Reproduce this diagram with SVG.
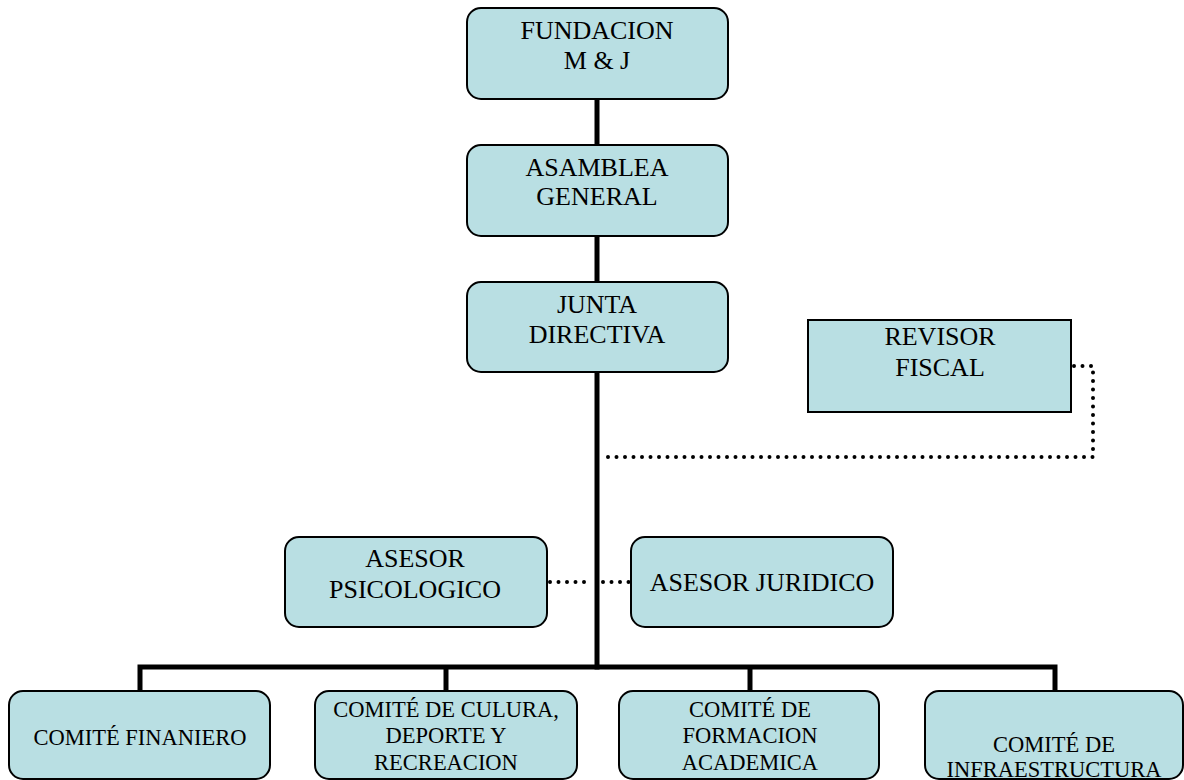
<svg xmlns="http://www.w3.org/2000/svg" width="1184" height="780" viewBox="0 0 1184 780">
<style>
.box{fill:#B9DFE3;stroke:#000;stroke-width:2}
text{font-family:'Liberation Serif','Times New Roman',serif;fill:#000;text-anchor:middle}
.t{font-size:26px}
.s{font-size:22.5px}
.solid{stroke:#000;stroke-width:5;fill:none}
.dot{stroke:#000;stroke-width:4;fill:none;stroke-linecap:round;stroke-dasharray:0 8.5}
</style>
<rect width="1184" height="780" fill="#fff"/>
<g id="connectors">
<line class="solid" x1="597" y1="99" x2="597" y2="669.5"/>
<polyline class="solid" points="140,691 140,667 1055,667 1055,691"/>
<line class="solid" x1="446" y1="667" x2="446" y2="691"/>
<line class="solid" x1="750" y1="667" x2="750" y2="691"/>
<polyline class="dot" points="1074,366 1093,366 1093,457 602,457"/>
<line class="dot" x1="550" y1="582" x2="592" y2="582"/>
<line class="dot" x1="603" y1="582" x2="629" y2="582"/>
</g>
<g id="fundacion">
<rect class="box" x="467" y="8" width="261" height="91" rx="14"/>
<text class="t" x="597" y="39">FUNDACION</text>
<text class="t" x="597" y="69">M &amp; J</text>
</g>
<g id="asamblea">
<rect class="box" x="467" y="145" width="261" height="91" rx="14"/>
<text class="t" x="597" y="176">ASAMBLEA</text>
<text class="t" x="597" y="205">GENERAL</text>
</g>
<g id="junta">
<rect class="box" x="467" y="282" width="261" height="90" rx="14"/>
<text class="t" x="597" y="313">JUNTA</text>
<text class="t" x="597" y="343">DIRECTIVA</text>
</g>
<g id="revisor">
<rect class="box" x="808" y="320" width="263" height="92"/>
<text class="t" x="940" y="345">REVISOR</text>
<text class="t" x="940" y="376">FISCAL</text>
</g>
<g id="psicologico">
<rect class="box" x="285" y="537" width="262" height="90" rx="14"/>
<text class="t" x="415" y="567">ASESOR</text>
<text class="t" x="415" y="598">PSICOLOGICO</text>
</g>
<g id="juridico">
<rect class="box" x="631" y="537" width="262" height="90" rx="14"/>
<text class="t" x="762" y="591">ASESOR JURIDICO</text>
</g>
<g id="financiero">
<rect class="box" x="9" y="691" width="261" height="88" rx="14"/>
<text class="s" x="140" y="745">COMITÉ FINANIERO</text>
</g>
<g id="cultura">
<rect class="box" x="315" y="691" width="262" height="88" rx="14"/>
<text class="s" x="446" y="717">COMITÉ DE CULURA,</text>
<text class="s" x="446" y="743">DEPORTE Y</text>
<text class="s" x="446" y="770">RECREACION</text>
</g>
<g id="formacion">
<rect class="box" x="619" y="691" width="260" height="88" rx="14"/>
<text class="s" x="750" y="717">COMITÉ DE</text>
<text class="s" x="750" y="743">FORMACION</text>
<text class="s" x="750" y="770">ACADEMICA</text>
</g>
<g id="infraestructura">
<rect class="box" x="925" y="691" width="258" height="88" rx="14"/>
<text class="s" x="1054" y="752">COMITÉ DE</text>
<text class="s" x="1054" y="777">INFRAESTRUCTURA</text>
</g>
</svg>
